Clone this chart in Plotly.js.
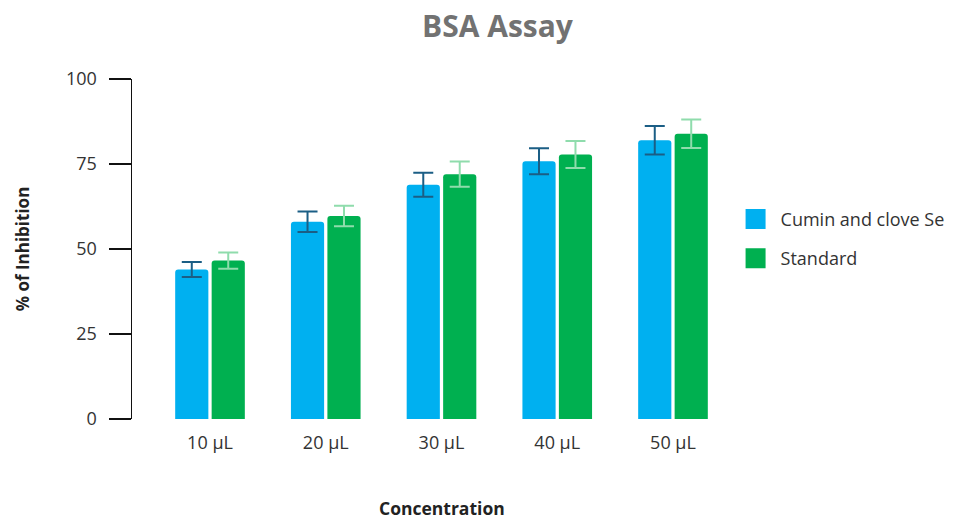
<!DOCTYPE html>
<html>
<head>
<meta charset="utf-8">
<script src="https://cdn.plot.ly/plotly-3.0.1.min.js"></script>
<style>html,body{margin:0;padding:0;background:#fff;}#chart{width:953px;height:519px;}</style>
</head>
<body>
<div id="chart"></div>
<script>
const categories = ["10 µL", "20 µL", "30 µL", "40 µL", "50 µL"];
const cuminValues = [44.0, 58.0, 68.9, 75.8, 82.0];
const cuminErrors = [2.2, 3.0, 3.5, 3.8, 4.2];
const standardValues = [46.6, 59.7, 72.0, 77.8, 83.9];
const standardErrors = [2.4, 3.0, 3.7, 4.0, 4.2];
const seriesNames = ["Cumin and clove Se", "Standard"];
const yTicks = [0, 25, 50, 75, 100];
const xTitle = "Concentration";

const font = "'Open Sans', 'Noto Sans', sans-serif";

const traces = [
  {
    type: "bar", x: categories, y: cuminValues, name: seriesNames[0], showlegend: false,
    marker: {color: "#00B0F0", line: {width: 0}},
    error_y: {type: "data", array: cuminErrors, visible: true, color: "#1B5E85", thickness: 2, width: 10}
  },
  {
    type: "bar", x: categories, y: standardValues, name: seriesNames[1], showlegend: false,
    marker: {color: "#00B050", line: {width: 0}},
    error_y: {type: "data", array: standardErrors, visible: true, color: "#8FDCAC", thickness: 2, width: 10}
  },
  {
    type: "scatter", mode: "markers", x: [null], y: [null], name: seriesNames[0], legendgroup: "a",
    marker: {symbol: "square", size: 16, color: "#00B0F0", line: {width: 4, color: "#00B0F0"}}, hoverinfo: "skip"
  },
  {
    type: "scatter", mode: "markers", x: [null], y: [null], name: seriesNames[1], legendgroup: "b",
    marker: {symbol: "square", size: 16, color: "#00B050", line: {width: 4, color: "#00B050"}}, hoverinfo: "skip"
  }
];

const layout = {
  width: 953, height: 519,
  paper_bgcolor: "#fff", plot_bgcolor: "#fff",
  margin: {l: 132, r: 202, t: 79, b: 100, autoexpand: false},
  font: {family: font, color: "#333", size: 15},
  title: {text: "<b>BSA Assay</b>", font: {family: font, size: 30, color: "#727272"}, x: 0.522, xanchor: "center", y: 0.948, yanchor: "middle"},
  barmode: "group", bargap: 0.37, bargroupgap: 0.09, barcornerradius: 3,
  xaxis: {
    type: "category", range: [-0.674, 4.674],
    showline: false, showgrid: false, zeroline: false, ticks: "",
    ticklabelstandoff: 11,
    tickfont: {family: font, size: 18, color: "#333"}
  },
  yaxis: {
    range: [0, 100], tickvals: yTicks, ticktext: yTicks.map(String),
    showline: true, linecolor: "#111", linewidth: 1.5,
    ticks: "outside", ticklen: 22, tickwidth: 1.5, tickcolor: "#111",
    ticklabelstandoff: 8,
    showgrid: false, zeroline: false,
    tickfont: {family: font, size: 18, color: "#333"},
    title: {text: "<b>% of Inhibition</b>", font: {family: font, size: 17, color: "#222"}, standoff: 32}
  },
  annotations: [{
    text: "<b>" + xTitle + "</b>", xref: "paper", yref: "paper", x: 0.5, y: -0.263,
    xanchor: "center", yanchor: "middle", showarrow: false,
    font: {family: font, size: 17.5, color: "#222"}
  }],
  legend: {
    x: 0.967, xanchor: "left", y: 0.642, yanchor: "top",
    xref: "paper", font: {family: font, size: 18, color: "#333"},
    traceorder: "grouped", tracegroupgap: 13, itemwidth: 40
  }
};

Plotly.newPlot("chart", traces, layout, {staticPlot: true, displayModeBar: false});
</script>
</body>
</html>
